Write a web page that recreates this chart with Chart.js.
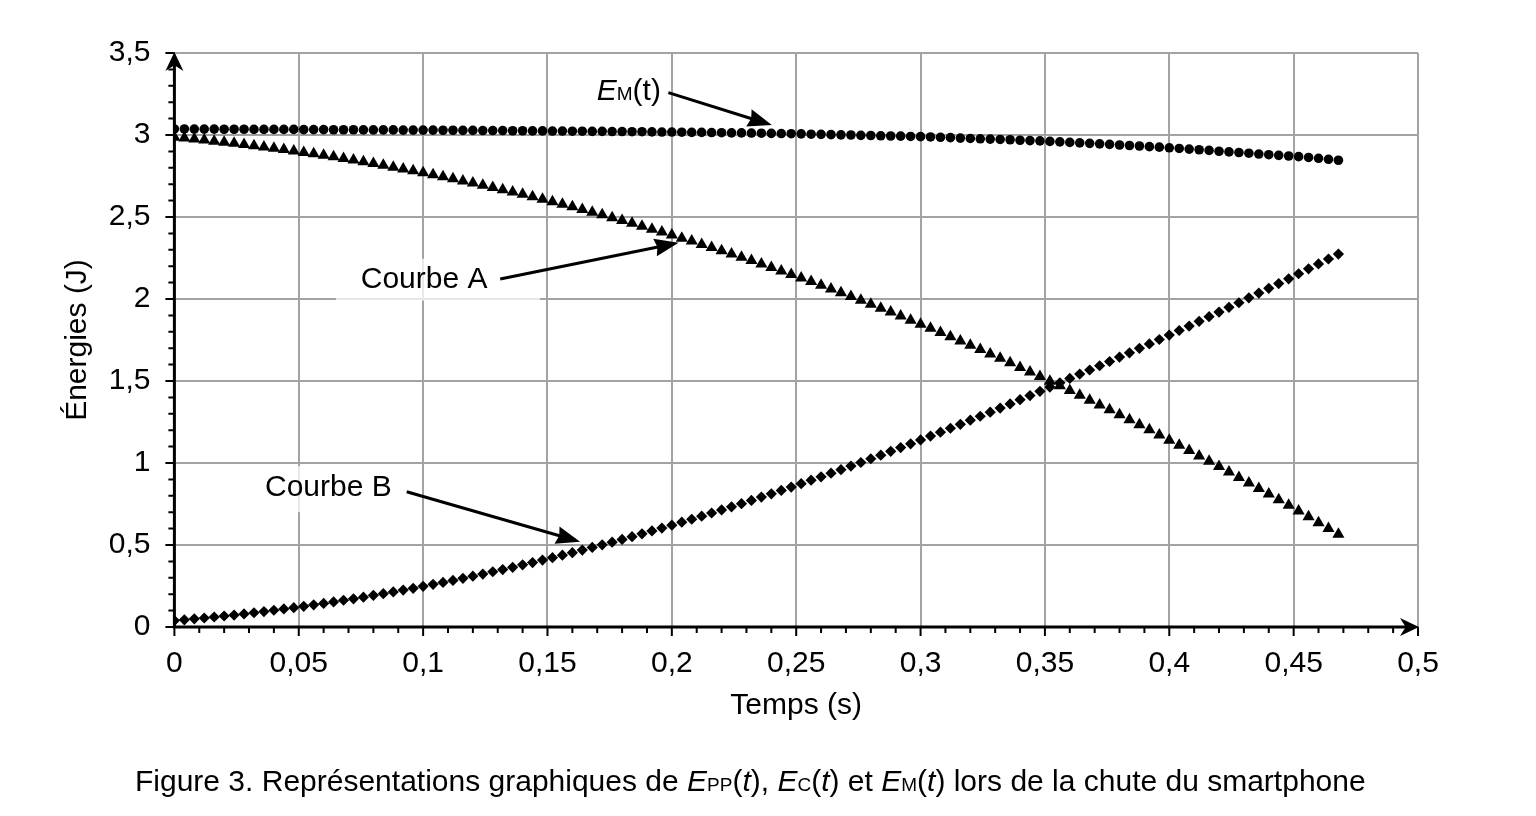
<!DOCTYPE html>
<html lang="fr">
<head>
<meta charset="utf-8">
<title>Figure 3</title>
<script src="https://cdn.jsdelivr.net/npm/chart.js@4.4.1/dist/chart.umd.min.js"></script>
<style>
  html, body { margin: 0; padding: 0; background: #fff; }
  #wrap { position: relative; width: 1536px; height: 816px; }
  #caption {
    position: absolute; left: 135px; top: 764px; white-space: nowrap;
    font: 30px/34px "Liberation Sans", Arial, sans-serif; color: #000;
  }
  #caption small { font-size: 19px; }
</style>
</head>
<body>
<div id="wrap">
  <canvas id="energyChart" width="1536" height="816"></canvas>
  <div id="caption">Figure 3. Représentations graphiques de <i>E</i><small>PP</small>(<i>t</i>), <i>E</i><small>C</small>(<i>t</i>) et <i>E</i><small>M</small>(<i>t</i>) lors de la chute du smartphone</div>
</div>
<script>
// temps (s)
var times = [
  0, 0.004, 0.008, 0.012, 0.016, 0.02, 0.024, 0.028, 0.032, 0.036,
  0.04, 0.044, 0.048, 0.052, 0.056, 0.06, 0.064, 0.068, 0.072, 0.076,
  0.08, 0.084, 0.088, 0.092, 0.096, 0.1, 0.104, 0.108, 0.112, 0.116,
  0.12, 0.124, 0.128, 0.132, 0.136, 0.14, 0.144, 0.148, 0.152, 0.156,
  0.16, 0.164, 0.168, 0.172, 0.176, 0.18, 0.184, 0.188, 0.192, 0.196,
  0.2, 0.204, 0.208, 0.212, 0.216, 0.22, 0.224, 0.228, 0.232, 0.236,
  0.24, 0.244, 0.248, 0.252, 0.256, 0.26, 0.264, 0.268, 0.272, 0.276,
  0.28, 0.284, 0.288, 0.292, 0.296, 0.3, 0.304, 0.308, 0.312, 0.316,
  0.32, 0.324, 0.328, 0.332, 0.336, 0.34, 0.344, 0.348, 0.352, 0.356,
  0.36, 0.364, 0.368, 0.372, 0.376, 0.38, 0.384, 0.388, 0.392, 0.396,
  0.4, 0.404, 0.408, 0.412, 0.416, 0.42, 0.424, 0.428, 0.432, 0.436,
  0.44, 0.444, 0.448, 0.452, 0.456, 0.46, 0.464, 0.468
];

// Em(t) - énergie mécanique (J)
var energieMeca = [
  3.037, 3.037, 3.036, 3.036, 3.036, 3.035, 3.035, 3.035, 3.034, 3.034,
  3.034, 3.034, 3.034, 3.033, 3.033, 3.033, 3.032, 3.032, 3.032, 3.031,
  3.031, 3.031, 3.031, 3.030, 3.030, 3.030, 3.030, 3.029, 3.029, 3.028,
  3.028, 3.027, 3.027, 3.027, 3.026, 3.026, 3.025, 3.025, 3.024, 3.024,
  3.023, 3.023, 3.022, 3.022, 3.021, 3.021, 3.020, 3.020, 3.019, 3.018,
  3.018, 3.017, 3.016, 3.016, 3.015, 3.014, 3.013, 3.013, 3.012, 3.011,
  3.010, 3.009, 3.008, 3.007, 3.005, 3.004, 3.002, 3.001, 3.000, 2.998,
  2.997, 2.995, 2.994, 2.993, 2.991, 2.990, 2.988, 2.986, 2.984, 2.981,
  2.979, 2.977, 2.975, 2.973, 2.971, 2.968, 2.966, 2.964, 2.961, 2.958,
  2.955, 2.952, 2.949, 2.946, 2.943, 2.939, 2.936, 2.933, 2.929, 2.926,
  2.922, 2.918, 2.914, 2.910, 2.906, 2.901, 2.897, 2.893, 2.889, 2.884,
  2.880, 2.876, 2.872, 2.868, 2.863, 2.858, 2.852, 2.846
];

// Courbe A - énergie potentielle de pesanteur (J)
var courbeA = [
  2.986, 2.981, 2.975, 2.969, 2.962, 2.956, 2.949, 2.942, 2.935, 2.927,
  2.919, 2.911, 2.903, 2.894, 2.885, 2.876, 2.867, 2.857, 2.847, 2.837,
  2.826, 2.815, 2.804, 2.793, 2.782, 2.770, 2.758, 2.746, 2.733, 2.720,
  2.707, 2.694, 2.680, 2.666, 2.652, 2.638, 2.623, 2.608, 2.593, 2.577,
  2.562, 2.546, 2.529, 2.513, 2.496, 2.479, 2.462, 2.444, 2.426, 2.408,
  2.390, 2.371, 2.353, 2.333, 2.314, 2.294, 2.275, 2.254, 2.234, 2.213,
  2.192, 2.171, 2.150, 2.128, 2.106, 2.084, 2.061, 2.038, 2.015, 1.992,
  1.968, 1.944, 1.920, 1.896, 1.871, 1.846, 1.821, 1.796, 1.770, 1.744,
  1.718, 1.692, 1.665, 1.638, 1.611, 1.583, 1.555, 1.527, 1.499, 1.471,
  1.442, 1.413, 1.383, 1.354, 1.324, 1.294, 1.263, 1.233, 1.202, 1.171,
  1.139, 1.108, 1.076, 1.043, 1.011, 0.978, 0.945, 0.912, 0.878, 0.845,
  0.811, 0.776, 0.742, 0.707, 0.672, 0.636, 0.601, 0.565
];

// Courbe B - énergie cinétique (J)
var courbeB = [
  0.039, 0.044, 0.050, 0.055, 0.061, 0.067, 0.073, 0.080, 0.087, 0.094,
  0.102, 0.110, 0.118, 0.126, 0.135, 0.144, 0.153, 0.163, 0.172, 0.182,
  0.193, 0.203, 0.214, 0.225, 0.236, 0.248, 0.260, 0.272, 0.284, 0.297,
  0.310, 0.323, 0.337, 0.350, 0.364, 0.379, 0.393, 0.408, 0.423, 0.438,
  0.453, 0.469, 0.485, 0.501, 0.517, 0.534, 0.551, 0.568, 0.586, 0.603,
  0.621, 0.639, 0.657, 0.676, 0.695, 0.714, 0.733, 0.752, 0.772, 0.792,
  0.812, 0.833, 0.853, 0.874, 0.895, 0.916, 0.938, 0.959, 0.981, 1.003,
  1.026, 1.048, 1.071, 1.094, 1.117, 1.141, 1.164, 1.188, 1.212, 1.236,
  1.261, 1.285, 1.310, 1.335, 1.360, 1.386, 1.411, 1.437, 1.463, 1.489,
  1.516, 1.542, 1.567, 1.593, 1.619, 1.646, 1.672, 1.699, 1.726, 1.753,
  1.780, 1.808, 1.835, 1.864, 1.892, 1.920, 1.949, 1.977, 2.007, 2.036,
  2.065, 2.094, 2.123, 2.154, 2.184, 2.214, 2.244, 2.274
];

var FONT = '"Liberation Sans", Arial, sans-serif';

function pts(ys) {
  return times.map(function (t, i) { return { x: t, y: ys[i] }; });
}
function virgule(v) {
  return String(Math.round(v * 100) / 100).replace('.', ',');
}

// flèche pleine (style Excel)
function arrowHead(ctx, x1, y1, x2, y2, len, half, notch) {
  var a = Math.atan2(y2 - y1, x2 - x1);
  ctx.save();
  ctx.translate(x2, y2);
  ctx.rotate(a);
  ctx.beginPath();
  ctx.moveTo(0, 0);
  ctx.lineTo(-len, -half);
  ctx.lineTo(-len * notch, 0);
  ctx.lineTo(-len, half);
  ctx.closePath();
  ctx.fill();
  ctx.restore();
}

function pointer(ctx, x1, y1, x2, y2) {
  var a = Math.atan2(y2 - y1, x2 - x1);
  ctx.beginPath();
  ctx.moveTo(x1, y1);
  ctx.lineTo(x2 - Math.cos(a) * 16, y2 - Math.sin(a) * 16);
  ctx.lineWidth = 3;
  ctx.stroke();
  arrowHead(ctx, x1, y1, x2, y2, 24, 9, 0.9);
}

var decor = {
  id: 'decor',
  beforeDatasetsDraw: function (chart) {
    var ctx = chart.ctx, xs = chart.scales.x, ys = chart.scales.y;
    var X = function (v) { return xs.getPixelForValue(v); };
    var Y = function (v) { return ys.getPixelForValue(v); };
    ctx.save();
    ctx.fillStyle = '#000';
    ctx.strokeStyle = '#000';

    // fonds des étiquettes
    ctx.fillStyle = 'rgba(255,255,255,0.75)';
    ctx.fillRect(X(0.065), Y(2.245), X(0.147) - X(0.065), Y(1.99) - Y(2.245));
    ctx.fillRect(X(0.04), Y(0.98), X(0.089) - X(0.04), Y(0.70) - Y(0.98));
    ctx.fillRect(X(0.163), Y(3.46), X(0.199) - X(0.163), Y(3.12) - Y(3.46));
    ctx.fillStyle = '#000';

    // axes
    var x0 = X(0), y0 = Y(0), xe = X(0.5), ye = Y(3.5);
    ctx.lineWidth = 3;
    ctx.beginPath();
    ctx.moveTo(x0, y0 + 1.5); ctx.lineTo(x0, ye + 8);
    ctx.moveTo(x0 - 1.5, y0); ctx.lineTo(xe - 8, y0);
    ctx.stroke();
    arrowHead(ctx, x0, y0, x0, ye - 1, 19, 9, 0.7);
    arrowHead(ctx, x0, y0, xe + 1, y0, 19, 9, 0.7);

    // graduations
    ctx.lineWidth = 2;
    ctx.beginPath();
    for (var k = 0; k <= 50; k++) {
      var px = X(k / 100), l = (k % 5 === 0) ? 9 : 6;
      ctx.moveTo(px, y0); ctx.lineTo(px, y0 + l);
    }
    for (var j = 0; j <= 35; j++) {
      var py = Y(j / 10), m = (j % 5 === 0) ? 9 : 6;
      ctx.moveTo(x0, py); ctx.lineTo(x0 - m, py);
    }
    ctx.stroke();

    // étiquettes
    ctx.font = '30px ' + FONT;
    ctx.textBaseline = 'middle';
    ctx.textAlign = 'center';
    ctx.fillText('Courbe A', X(0.1004), Y(2.116));
    ctx.fillText('Courbe B', X(0.0619), Y(0.848));
    pointer(ctx, X(0.131), Y(2.122), X(0.2027), Y(2.343));
    pointer(ctx, X(0.0934), Y(0.825), X(0.1631), Y(0.520));

    ctx.textAlign = 'left';
    ctx.textBaseline = 'alphabetic';
    var lx = X(0.1698), ly = Y(3.28) + 11;
    ctx.font = 'italic 30px ' + FONT;
    ctx.fillText('E', lx, ly);
    lx += ctx.measureText('E').width;
    ctx.font = '19px ' + FONT;
    ctx.fillText('M', lx, ly);
    lx += ctx.measureText('M').width;
    ctx.font = '30px ' + FONT;
    ctx.fillText('(t)', lx, ly);
    pointer(ctx, X(0.1986), Y(3.258), X(0.2402), Y(3.061));
    ctx.restore();
  }
};

var ctx = document.getElementById('energyChart').getContext('2d');
var energyChart = new Chart(ctx, {
  type: 'scatter',
  data: {
    datasets: [{
      label: 'EM',
      data: pts(energieMeca),
      pointStyle: 'circle',
      pointRadius: 4.8,
      backgroundColor: '#000',
      borderColor: '#000',
      borderWidth: 0
    }, {
      label: 'Courbe A',
      data: pts(courbeA),
      pointStyle: 'triangle',
      pointRadius: 7,
      backgroundColor: '#000',
      borderColor: '#000',
      borderWidth: 0
    }, {
      label: 'Courbe B',
      data: pts(courbeB),
      pointStyle: 'rectRot',
      pointRadius: 5.6,
      backgroundColor: '#000',
      borderColor: '#000',
      borderWidth: 0
    }]
  },
  options: {
    responsive: false,
    animation: false,
    devicePixelRatio: 1,
    layout: { padding: { left: 48, top: 53, right: 118, bottom: 89 } },
    plugins: { legend: { display: false }, tooltip: { enabled: false } },
    scales: {
      x: {
        type: 'linear', min: 0, max: 0.5,
        afterFit: function (s) { s.height = 100; },
        grid: { color: '#a3a3a3', lineWidth: 2, drawTicks: false },
        border: { display: false },
        ticks: {
          stepSize: 0.05, padding: 19, color: '#000',
          font: { family: FONT, size: 30 },
          callback: virgule
        },
        title: {
          display: true, text: 'Temps (s)', color: '#000',
          font: { family: FONT, size: 30 },
          padding: { top: 0, bottom: 3 }
        }
      },
      y: {
        type: 'linear', min: 0, max: 3.5,
        afterFit: function (s) { s.width = 126.4; },
        grid: { color: '#a3a3a3', lineWidth: 2, drawTicks: false },
        border: { display: false },
        ticks: {
          stepSize: 0.5, padding: 24, color: '#000',
          font: { family: FONT, size: 30 },
          callback: virgule
        },
        title: {
          display: true, text: 'Énergies (J)', color: '#000',
          font: { family: FONT, size: 30 },
          padding: { top: 12, bottom: 0 }
        }
      }
    }
  },
  plugins: [decor]
});
</script>
</body>
</html>
